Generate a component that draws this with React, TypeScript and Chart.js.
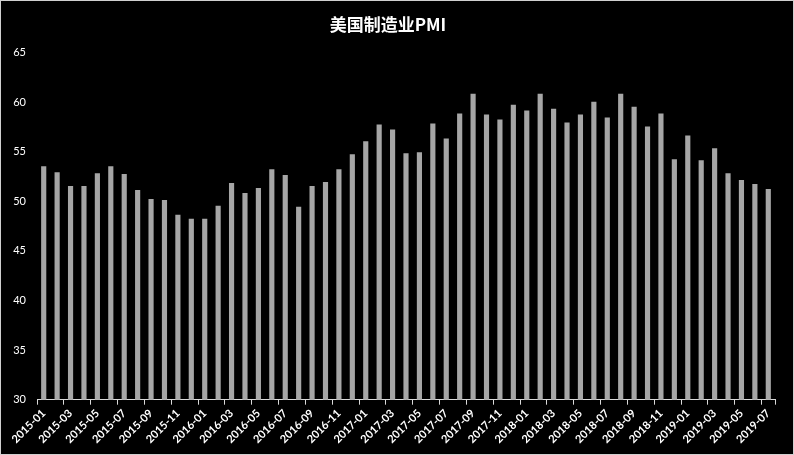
import React, { useEffect, useRef } from "react";
import { Chart, registerables } from "chart.js";

Chart.register(...registerables);

const categories = [
  "2015-01", "2015-02", "2015-03", "2015-04", "2015-05", "2015-06", "2015-07", "2015-08", "2015-09", "2015-10", "2015-11", "2015-12",
  "2016-01", "2016-02", "2016-03", "2016-04", "2016-05", "2016-06", "2016-07", "2016-08", "2016-09", "2016-10", "2016-11", "2016-12",
  "2017-01", "2017-02", "2017-03", "2017-04", "2017-05", "2017-06", "2017-07", "2017-08", "2017-09", "2017-10", "2017-11", "2017-12",
  "2018-01", "2018-02", "2018-03", "2018-04", "2018-05", "2018-06", "2018-07", "2018-08", "2018-09", "2018-10", "2018-11", "2018-12",
  "2019-01", "2019-02", "2019-03", "2019-04", "2019-05", "2019-06", "2019-07",
];

const pmiValues = [
  53.5, 52.9, 51.5, 51.5, 52.8, 53.5, 52.7, 51.1, 50.2, 50.1, 48.6, 48.2,
  48.2, 49.5, 51.8, 50.8, 51.3, 53.2, 52.6, 49.4, 51.5, 51.9, 53.2, 54.7,
  56.0, 57.7, 57.2, 54.8, 54.9, 57.8, 56.3, 58.8, 60.8, 58.7, 58.2, 59.7,
  59.1, 60.8, 59.3, 57.9, 58.7, 60.0, 58.4, 60.8, 59.5, 57.5, 58.8, 54.2,
  56.6, 54.1, 55.3, 52.8, 52.1, 51.7, 51.2,
];

const yMin = 30;
const yMax = 65;
const yStep = 5;
const titleText = "美国制造业PMI";

export default function App() {
  const canvasRef = useRef<HTMLCanvasElement | null>(null);

  useEffect(() => {
    document.body.style.margin = "0";
    const canvas = canvasRef.current;
    if (!canvas) return;
    const chart = new Chart(canvas, {
      type: "bar",
      data: {
        labels: categories,
        datasets: [
          {
            label: "PMI",
            data: pmiValues,
            backgroundColor: "#a6a6a6",
            borderWidth: 0,
            barThickness: 4.5,
          },
        ],
      },
      options: {
        animation: false,
        responsive: false,
        maintainAspectRatio: false,
        layout: { padding: { left: 0, right: 18, top: 0, bottom: 6 } },
        plugins: {
          legend: { display: false },
          tooltip: { enabled: false },
          title: {
            display: true,
            text: titleText,
            color: "#ffffff",
            font: { family: "'Noto Sans CJK SC', 'Lato', sans-serif", size: 17, weight: "bold" },
            padding: { top: 13, bottom: 18 },
          },
        },
        scales: {
          x: {
            offset: true,
            afterFit: (scale: any) => {
              scale.paddingLeft = 0;
            },
            grid: {
              offset: true,
              display: true,
              drawOnChartArea: false,
              drawTicks: true,
              tickLength: 5,
              color: (ctx: any) =>
                ctx.index === undefined || ctx.index % 2 === 0 ? "#d9d9d9" : "rgba(0,0,0,0)",
            },
            border: { display: true, color: "#d9d9d9", width: 1 },
            ticks: {
              autoSkip: false,
              minRotation: 45,
              maxRotation: 45,
              color: "#ffffff",
              padding: 2,
              font: { family: "Lato, 'Open Sans', sans-serif", size: 11, weight: "bold" },
              callback: (_v: any, i: number) => (i % 2 === 0 ? categories[i] : ""),
            },
          },
          y: {
            min: yMin,
            max: yMax,
            afterFit: (scale: any) => {
              scale.width = 36;
            },
            ticks: {
              stepSize: yStep,
              color: "#ffffff",
              padding: 11,
              font: { family: "Lato, 'Open Sans', sans-serif", size: 11 },
            },
            grid: { display: false, drawTicks: false },
            border: { display: false },
          },
        },
      },
    });
    return () => chart.destroy();
  }, []);

  return (
    <div
      style={{
        position: "absolute",
        left: 0,
        top: 0,
        width: 794,
        height: 455,
        background: "#000000",
        boxSizing: "border-box",
        border: "1px solid #d0d0d0",
      }}
    >
      <canvas ref={canvasRef} width={792} height={453} style={{ display: "block" }} />
    </div>
  );
}
